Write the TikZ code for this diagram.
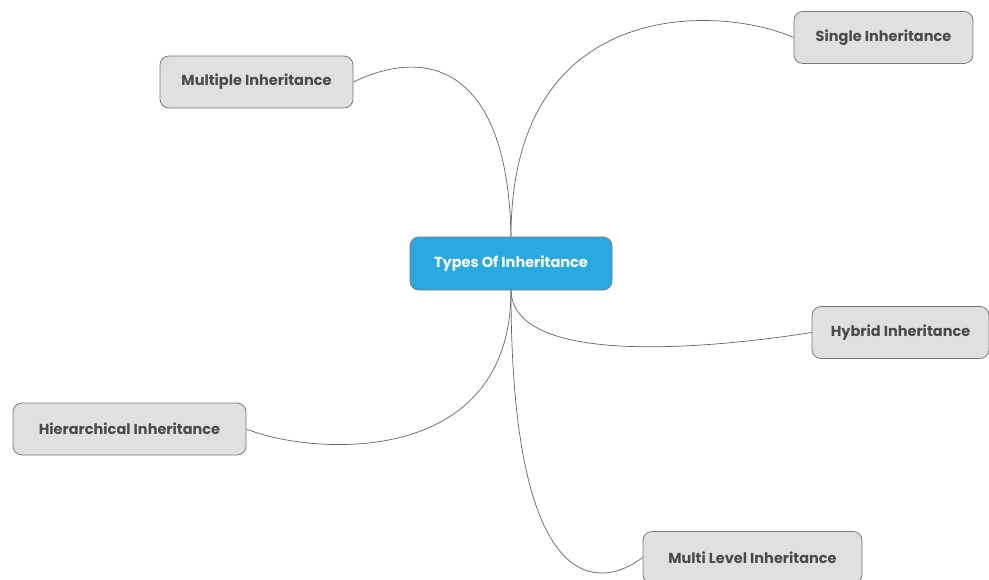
\documentclass[tikz,border=0pt]{standalone}
\usepackage{fontspec}
\setmainfont{Poppins}
\definecolor{rootfill}{HTML}{29A9E0}
\definecolor{leaffill}{HTML}{E0E0E0}
\definecolor{edgegray}{HTML}{7A7A7A}
\definecolor{txtgray}{HTML}{4A4A4A}
\begin{document}
\begin{tikzpicture}[x=1pt,y=-1pt,
  leaf/.style={draw=edgegray, line width=0.8pt, fill=leaffill, rounded corners=9pt,
    minimum height=52pt, inner xsep=0pt, text=txtgray, font=\bfseries\fontsize{14.5}{16}\selectfont},
  root/.style={leaf, fill=rootfill, text=white, minimum height=53pt},
  link/.style={draw=edgegray!80!black, line width=0.7pt}]
\useasboundingbox (0,0) rectangle (989,579);
\node[root, minimum width=202pt] (r) at (511,263.5) {Types Of Inheritance};
\node[leaf, minimum width=193pt] (mu) at (256.5,82) {Multiple Inheritance};
\node[leaf, minimum width=179pt] (si) at (883.5,37.5) {Single Inheritance};
\node[leaf, minimum width=177pt] (hy) at (900.5,332.5) {Hybrid Inheritance};
\node[leaf, minimum width=233pt] (hi) at (129.5,429) {Hierarchical Inheritance};
\node[leaf, minimum width=219pt] (ml) at (752.5,557.5) {Multi Level Inheritance};
\draw[link] (r.north) .. controls (508,70) and (430,45) .. (mu.east);
\draw[link] (r.north) .. controls (511,-5) and (720,5) .. (si.west);
\draw[link] (r.south) .. controls (513,365) and (700,350) .. (hy.west);
\draw[link] (r.south) .. controls (511,470) and (310,455) .. (hi.east);
\draw[link] (r.south) .. controls (511,600) and (600,590) .. (ml.west);
\end{tikzpicture}
\end{document}
